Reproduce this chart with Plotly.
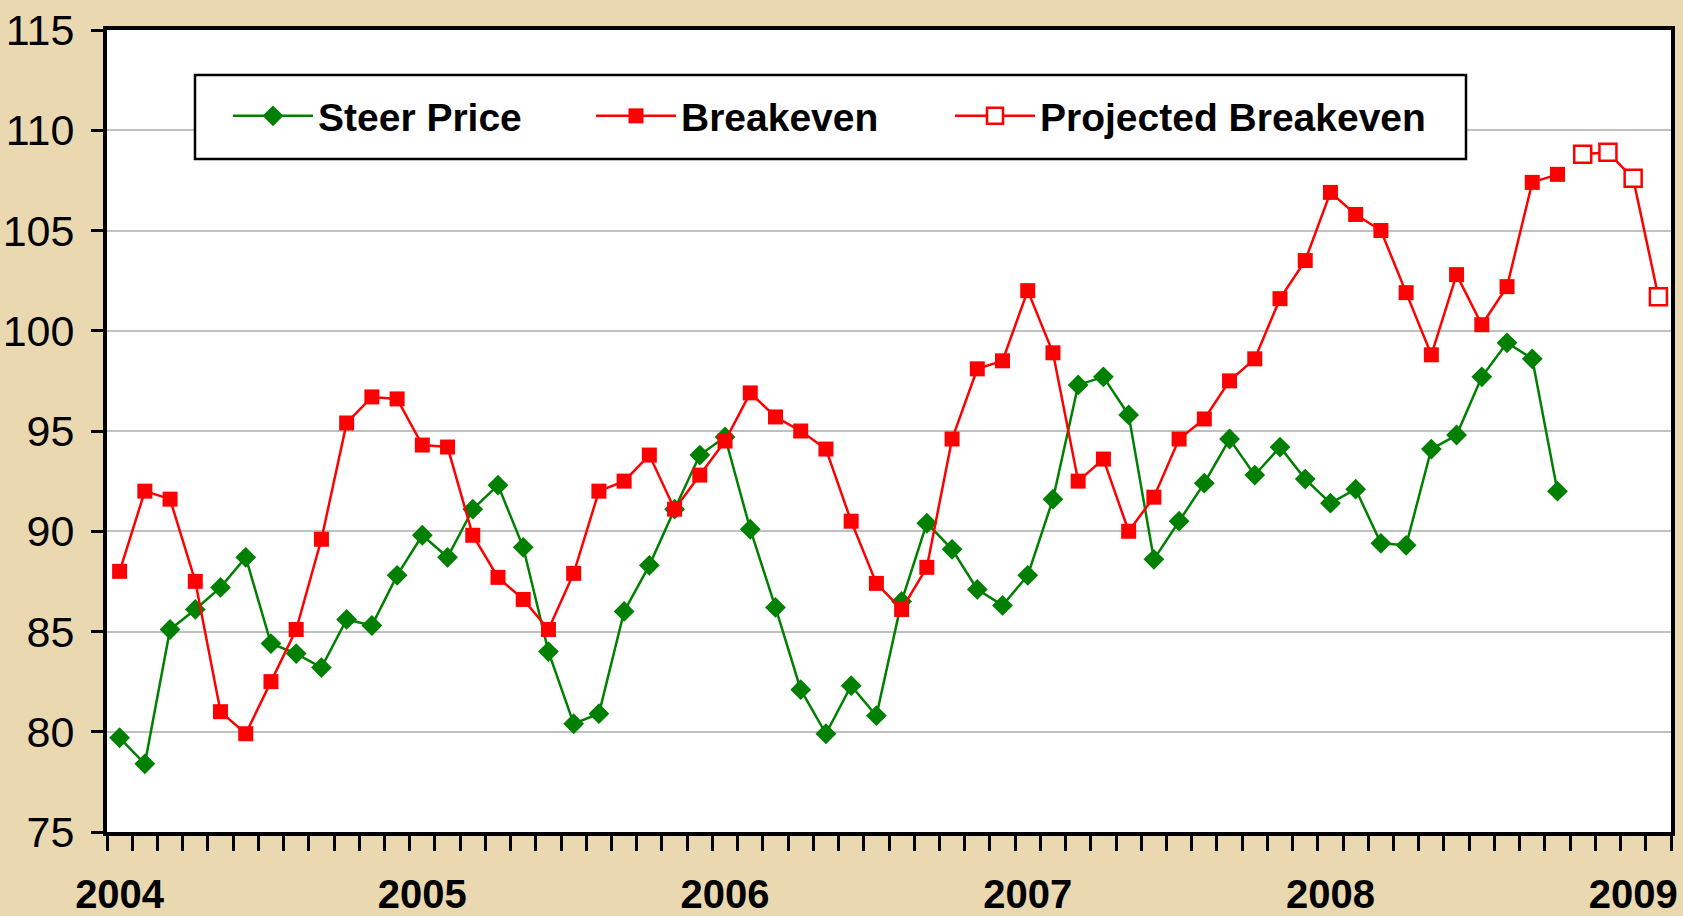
import plotly.graph_objects as go

# ---------------- data ----------------
years = ["2004", "2005", "2006", "2007", "2008", "2009"]
months = [f"{y}-{m:02d}" for y in range(2004, 2010) for m in range(1, 13)][:62]

steer_price = [
    79.7, 78.4, 85.1, 86.1, 87.2, 88.7, 84.4, 83.9, 83.2, 85.6, 85.3, 87.8,   # 2004
    89.8, 88.7, 91.1, 92.3, 89.2, 84.0, 80.4, 80.9, 86.0, 88.3, 91.1, 93.8,   # 2005
    94.7, 90.1, 86.2, 82.1, 79.9, 82.3, 80.8, 86.5, 90.4, 89.1, 87.1, 86.3,   # 2006
    87.8, 91.6, 97.3, 97.7, 95.8, 88.6, 90.5, 92.4, 94.6, 92.8, 94.2, 92.6,   # 2007
    91.4, 92.1, 89.4, 89.3, 94.1, 94.8, 97.7, 99.4, 98.6, 92.0,               # 2008
]
breakeven = [
    88.0, 92.0, 91.6, 87.5, 81.0, 79.9, 82.5, 85.1, 89.6, 95.4, 96.7, 96.6,
    94.3, 94.2, 89.8, 87.7, 86.6, 85.1, 87.9, 92.0, 92.5, 93.8, 91.1, 92.8,
    94.5, 96.9, 95.7, 95.0, 94.1, 90.5, 87.4, 86.1, 88.2, 94.6, 98.1, 98.5,
    102.0, 98.9, 92.5, 93.6, 90.0, 91.7, 94.6, 95.6, 97.5, 98.6, 101.6, 103.5,
    106.9, 105.8, 105.0, 101.9, 98.8, 102.8, 100.3, 102.2, 107.4, 107.8,
]
projected_breakeven = [108.8, 108.9, 107.6, 101.7]

y_ticks = [75, 80, 85, 90, 95, 100, 105, 110, 115]

# positions on a uniform monthly (category-like) axis
x_steer = [months.index(m) for m in months[:len(steer_price)]]
x_break = [months.index(m) for m in months[:len(breakeven)]]
x_proj = [months.index(m) for m in months[len(breakeven):len(breakeven) + len(projected_breakeven)]]
year_pos = [months.index(f"{y}-01") for y in years]

GREEN = "#008000"
RED = "#FF0000"
FONT = "Liberation Sans, Arial, sans-serif"

# plot-area geometry in page pixels
W, H = 1683, 916
L, R, T, B = 107, 12, 30, 84
PW, PH = W - L - R, H - T - B


def px_x(px):
    return (px - L) / PW


def px_y(py):
    return (H - B - py) / PH


fig = go.Figure()
fig.add_trace(go.Scatter(
    x=x_steer, y=steer_price, name="Steer Price", mode="lines+markers",
    line=dict(color=GREEN, width=2.5),
    marker=dict(symbol="diamond", size=16, color=GREEN),
    legend="legend",
))
fig.add_trace(go.Scatter(
    x=x_break, y=breakeven, name="Breakeven", mode="lines+markers",
    line=dict(color=RED, width=2.5),
    marker=dict(symbol="square", size=15, color=RED),
    legend="legend2",
))
fig.add_trace(go.Scatter(
    x=x_proj, y=projected_breakeven, name="Projected Breakeven", mode="lines+markers",
    line=dict(color=RED, width=2.5),
    marker=dict(symbol="square", size=17, color="white", line=dict(color=RED, width=2.5)),
    legend="legend3",
))

# legend frame
fig.add_shape(type="rect", xref="paper", yref="paper",
              x0=px_x(195), x1=px_x(1466), y0=px_y(159), y1=px_y(75),
              fillcolor="white", line=dict(color="black", width=2.5), layer="above")

legend_font = dict(family=FONT, size=39, weight="bold", color="black")


def legend_at(text_x):
    return dict(
        orientation="h", x=px_x(text_x - 91), xanchor="left",
        y=px_y(116), yanchor="middle",
        bgcolor="rgba(0,0,0,0)", borderwidth=0,
        font=legend_font, itemwidth=80,
    )


fig.update_layout(
    width=W, height=H,
    margin=dict(l=L, r=R, t=T, b=B, autoexpand=False),
    paper_bgcolor="#EAD8B0",
    plot_bgcolor="white",
    font=dict(family=FONT, color="black"),
    showlegend=True,
    legend=legend_at(319),
    legend2=legend_at(682),
    legend3=legend_at(1041),
    xaxis=dict(
        range=[-0.5, len(months) - 0.5],
        tickmode="array", tickvals=year_pos, ticktext=years,
        ticks="outside", ticklen=0, tickcolor="black",
        tickfont=dict(family=FONT, size=40, weight="bold"),
        ticklabelstandoff=24, automargin=False,
        showgrid=False, zeroline=False,
        showline=True, linecolor="black", linewidth=4, mirror=True,
        minor=dict(ticks="outside", tick0=-0.5, dtick=1, ticklen=15,
                   tickwidth=2.5, tickcolor="black", showgrid=False),
    ),
    yaxis=dict(
        range=[75, 115], tickmode="array", tickvals=y_ticks,
        ticktext=[str(v) for v in y_ticks],
        ticks="outside", ticklen=12, tickwidth=2.5, tickcolor="black",
        tickfont=dict(family=FONT, size=43),
        ticklabelstandoff=8, automargin=False,
        showgrid=True, gridcolor="#C0C0C0", gridwidth=2,
        zeroline=False,
        showline=True, linecolor="black", linewidth=4, mirror=True,
    ),
)

fig.write_html(
    "out.html",
    config={"displayModeBar": False},
    post_script="document.body.style.margin='0';document.body.style.overflow='hidden';",
)
